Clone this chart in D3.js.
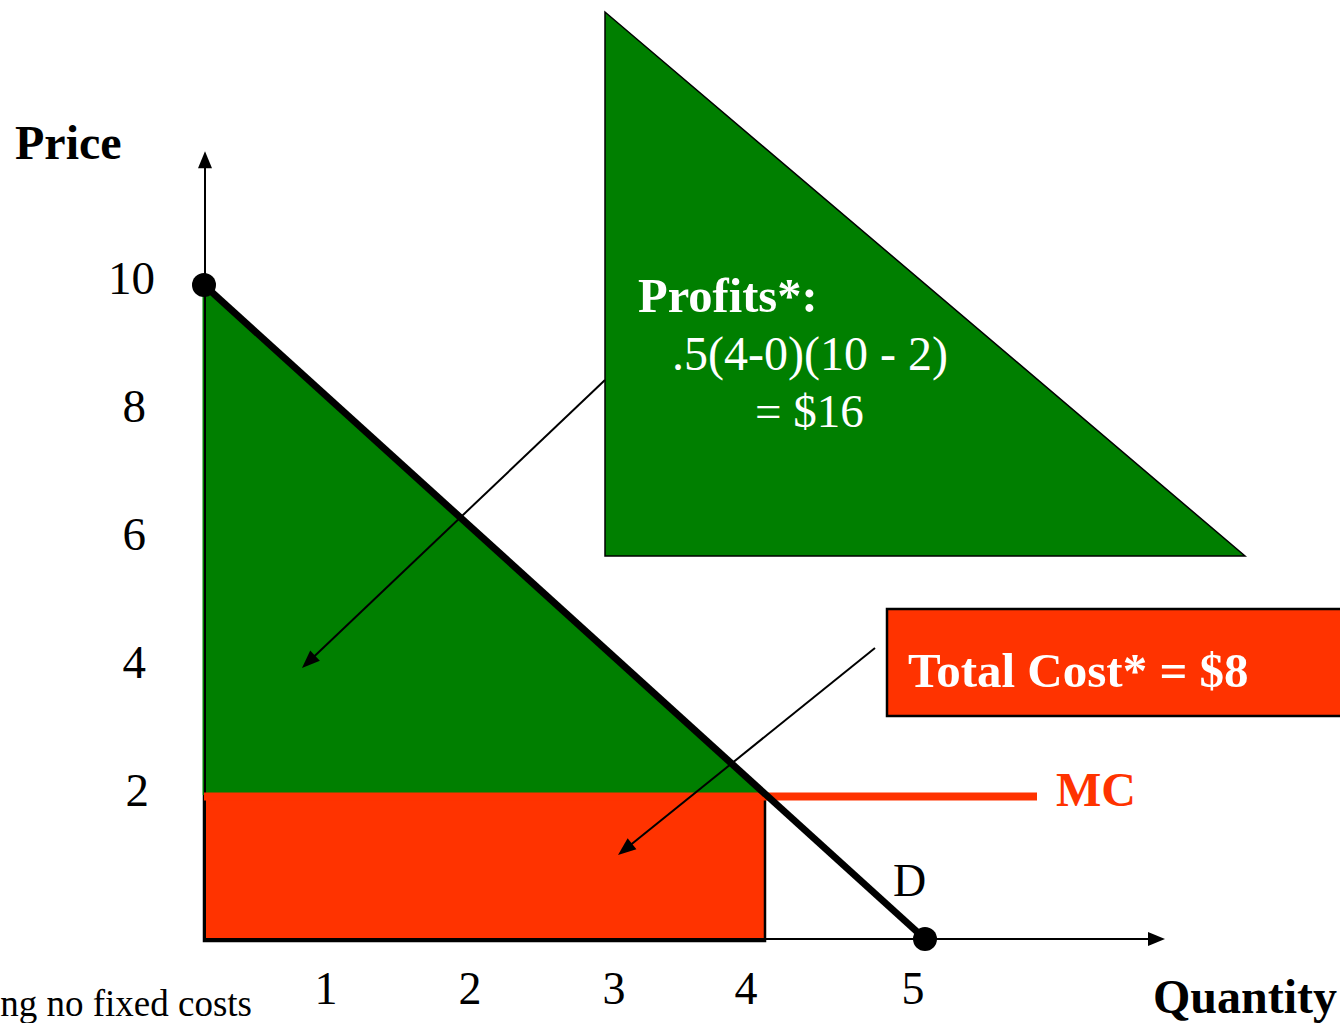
<!DOCTYPE html>
<html>
<head>
<meta charset="utf-8">
<script src="https://cdn.jsdelivr.net/npm/d3@7"></script>
<style>
  html, body { margin: 0; padding: 0; background: #fff; }
  svg { display: block; }
  text { font-family: "Liberation Serif", "Times New Roman", serif; }
</style>
</head>
<body>
<svg id="chart" width="1340" height="1023"></svg>
<script>
// Demand curve end points (quantity, price)
const demandQ = [0, 5];
const demandP = [10, 0];
// Constant marginal cost and the profit-maximising quantity
const mcPrice = 2;
const optQuantity = 4;
const mcEndQ = 5.7;
// Axis extents and tick labels
const axisMaxQ = 6.5;
const axisMaxP = 12.1;
const xTickValues = [1, 2, 3, 4, 5];
const yTickValues = [2, 4, 6, 8, 10];
// Annotation text
const profitLines = ["Profits*:", ".5(4-0)(10 - 2)", "= $16"];
const costLabel = "Total Cost* = $8";
const footnote = "*Assuming no fixed costs";

const GREEN = "#007f00";
const RED = "#ff3300";

const svg = d3.select("#chart");

// Hand-drawn diagram: piecewise scales keep the key points where they sit
const x = d3.scaleLinear().domain([0, 4, 5]).range([204, 765, 925]);
const y = d3.scaleLinear().domain([0, 2, 10]).range([939, 795, 285]);
// Label placement scales
const xLabel = d3.scaleLinear().domain([0, 1, 2, 3, 4, 5]).range([204, 326, 470, 614, 746, 913]);
const yLabel = d3.scaleLinear().domain([2, 10]).range([790, 278]);

// Filled triangular arrowhead at (tx, ty) pointing away from (fx, fy)
function arrowHead(g, fx, fy, tx, ty, len, half) {
  const a = Math.atan2(ty - fy, tx - fx);
  const bx = tx - len * Math.cos(a), by = ty - len * Math.sin(a);
  const px = -Math.sin(a) * half, py = Math.cos(a) * half;
  g.append("path")
    .attr("d", `M${tx},${ty} L${bx + px},${by + py} L${bx - px},${by - py} Z`)
    .attr("fill", "#000");
}
function arrow(fx, fy, tx, ty, w, len, half) {
  const a = Math.atan2(ty - fy, tx - fx);
  svg.append("line")
    .attr("x1", fx).attr("y1", fy)
    .attr("x2", tx - (len - 2) * Math.cos(a)).attr("y2", ty - (len - 2) * Math.sin(a))
    .attr("stroke", "#000").attr("stroke-width", w);
  arrowHead(svg, fx, fy, tx, ty, len, half);
}

// Demand line as a function of quantity
const demandAt = q => demandP[0] + (demandP[1] - demandP[0]) * (q - demandQ[0]) / (demandQ[1] - demandQ[0]);

// Profit area: between demand and MC from 0 to the optimal quantity
const profitPoly = [[0, demandAt(0)], [optQuantity, demandAt(optQuantity)], [optQuantity, mcPrice], [0, mcPrice]];
svg.append("path")
  .attr("d", d3.line().x(d => x(d[0])).y(d => y(d[1]))(profitPoly) + "Z")
  .attr("transform", "translate(-1.5,0)")
  .attr("fill", GREEN);

// Total cost rectangle
svg.append("rect")
  .attr("x", x(0)).attr("y", y(mcPrice))
  .attr("width", x(optQuantity) - x(0))
  .attr("height", y(0) - y(mcPrice))
  .attr("fill", RED);
svg.append("path")
  .attr("d", `M${x(0)},${y(mcPrice)} V${y(0) + 2} H${x(optQuantity)} V${y(mcPrice)}`)
  .attr("fill", "none").attr("stroke", "#000").attr("stroke-width", 2.5);

// Axes
arrow(x(0), y(0), x(axisMaxQ), y(0), 2, 17, 7);
arrow(x(0) + 1, y(0), x(0) + 1, y(axisMaxP), 2, 17, 7);

// MC line
svg.append("line")
  .attr("x1", x(0)).attr("x2", x(mcEndQ))
  .attr("y1", y(mcPrice) + 1.5).attr("y2", y(mcPrice) + 1.5)
  .attr("stroke", RED).attr("stroke-width", 8);

// Demand line with end dots
svg.append("line")
  .attr("x1", x(demandQ[0])).attr("y1", y(demandP[0]))
  .attr("x2", x(demandQ[1])).attr("y2", y(demandP[1]))
  .attr("stroke", "#000").attr("stroke-width", 7);
svg.selectAll("circle.end")
  .data(demandQ.map((q, i) => [q, demandP[i]]))
  .join("circle").attr("class", "end")
  .attr("cx", d => x(d[0])).attr("cy", d => y(d[1]))
  .attr("r", 12).attr("fill", "#000");

// Tick labels
svg.selectAll("text.xt").data(xTickValues).join("text").attr("class", "xt")
  .attr("x", d => xLabel(d)).attr("y", 1004)
  .attr("text-anchor", "middle").attr("font-size", 46).text(d => d);
svg.selectAll("text.yt").data(yTickValues).join("text").attr("class", "yt")
  .attr("x", d => d === 10 ? 155 : (d === 2 ? 149 : 146))
  .attr("y", d => yLabel(d)).attr("dy", "0.35em")
  .attr("text-anchor", "end").attr("font-size", 47).text(d => d);

// Axis titles
svg.append("text").attr("x", 15).attr("y", 159)
  .attr("font-size", 48).attr("font-weight", "bold").text("Price");
svg.append("text").attr("x", 1153).attr("y", 1013)
  .attr("font-size", 48).attr("font-weight", "bold").text("Quantity");
svg.append("text").attr("x", 252).attr("y", 1016).attr("text-anchor", "end")
  .attr("font-size", 37).text(footnote);

// Curve labels
svg.append("text").attr("x", 1056).attr("y", 806)
  .attr("font-size", 48).attr("font-weight", "bold").attr("fill", RED).text("MC");
svg.append("text").attr("x", 893).attr("y", 896)
  .attr("font-size", 46).text("D");

// Profit callout triangle
const tri = [[605, 12], [605, 556], [1245, 556]];
svg.append("path")
  .attr("d", d3.line()(tri) + "Z")
  .attr("fill", GREEN).attr("stroke", "#000").attr("stroke-width", 1.5);
arrow(605, 380, 302, 668, 2, 18, 7);
const profitPos = [[638, 312, "bold", 48.5], [672, 370, "normal", 48], [755, 427, "normal", 47]];
svg.selectAll("text.profit").data(profitLines).join("text").attr("class", "profit")
  .attr("x", (d, i) => profitPos[i][0]).attr("y", (d, i) => profitPos[i][1])
  .attr("font-weight", (d, i) => profitPos[i][2])
  .attr("font-size", (d, i) => profitPos[i][3]).attr("fill", "#fff").text(d => d);

// Total cost callout box
svg.append("rect")
  .attr("x", 887).attr("y", 609).attr("width", 470).attr("height", 107)
  .attr("fill", RED).attr("stroke", "#000").attr("stroke-width", 2.5);
arrow(875, 648, 618, 855, 2, 18, 7);
svg.append("text").attr("x", 908).attr("y", 687)
  .attr("font-size", 49).attr("font-weight", "bold").attr("fill", "#fff").text(costLabel);
</script>
</body>
</html>
